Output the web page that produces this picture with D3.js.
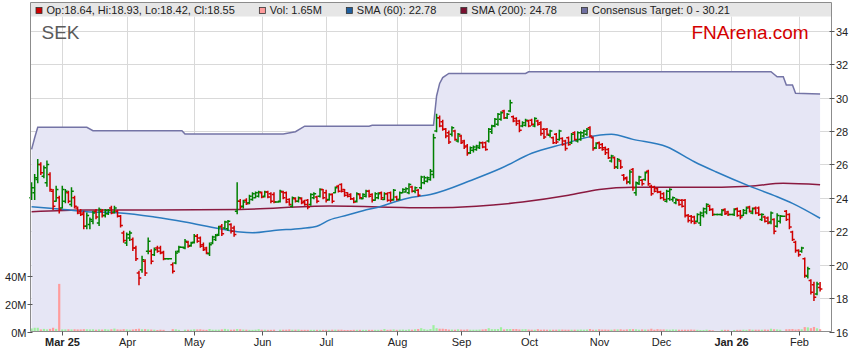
<!DOCTYPE html>
<html>
<head>
<meta charset="utf-8">
<script src="https://cdn.jsdelivr.net/npm/d3@7/dist/d3.min.js"></script>
<style>
  html, body { margin: 0; background: #fff; }
  svg { display: block; font-family: "Liberation Sans", Arial, sans-serif; }
</style>
</head>
<body>
<svg id="chart" width="859" height="363"></svg>
<script>
// SEK daily OHLC chart, one slot per weekday (ASX holidays kept as flat bars).
// Values, Feb 17 2025 .. Feb 11 2026.
const FIRST_DAY = new Date(2025, 1, 17);

const opens = [
  24.0, 24.3, 25.1, 26.0, 25.3,   24.9, 25.4, 24.4, 23.8, 24.0,
  23.4, 23.8, 24.3, 23.6, 24.0,   23.4, 23.2, 23.1, 22.3, 22.4,
  22.6, 23.2, 22.5, 23.2, 22.95,  23.05, 23.4, 23.15, 23.2, 22.9,
  21.9, 21.3, 21.6, 21.5, 21.0,   19.5, 19.7, 20.2, 20.8, 20.8,
  20.6, 21.0, 21.0, 20.75, 20.35, 20.35, 20.0, 20.1, 20.8, 21.05,
  21.0, 21.35, 21.15, 21.35, 21.7, 21.6, 21.2, 21.0, 20.65, 21.3,
  21.5, 21.8, 22.3, 22.2, 22.15,  22.4, 22.2, 23.2, 23.8, 23.5,
  23.85, 23.7, 23.9, 24.0, 24.1,  24.3, 24.1, 24.35, 24.25, 24.2,
  23.75, 23.8, 24.35, 24.3, 23.9, 23.5, 23.95, 23.8, 23.95, 23.8,
  23.85, 23.6, 24.0, 24.05, 24.1, 24.5, 24.3, 23.9, 24.2, 24.3,
  24.7, 24.8, 24.5, 24.3, 24.2,   23.95, 23.8, 24.2, 23.95, 24.1,
  24.4, 24.2, 23.85, 24.0, 24.3,  23.9, 24.25, 24.3, 23.9, 24.05,
  23.9, 24.3, 24.35, 24.3, 24.65, 24.4, 24.45, 24.6, 24.9, 25.0,
  25.1, 25.4, 28.0, 28.8, 28.55,  28.1, 27.9, 27.8, 28.0, 27.4,
  27.7, 27.4, 27.1, 26.7, 26.85,  26.9, 27.0, 27.3, 27.3, 27.4,
  27.95, 28.3, 28.4, 28.7, 29.2,  28.8, 29.2, 28.85, 28.75, 28.6,
  28.3, 28.35, 28.6, 28.65, 28.3, 28.6, 28.5, 28.1, 28.1, 27.75,
  27.6, 27.8, 27.5, 27.55, 27.4,  27.6, 27.3, 27.9, 27.4, 27.5,
  27.7, 27.8, 28.2, 27.6, 27.0,   27.3, 27.2, 27.0, 26.9, 26.2,
  26.4, 25.85, 26.2, 25.35, 25.2, 24.95, 25.7, 24.3, 24.85, 25.05,
  25.1, 25.6, 24.7, 24.65, 24.55, 24.35, 24.25, 23.8, 23.95, 23.9,
  23.7, 23.85, 23.85, 23.85, 22.95, 22.9, 22.85, 22.6, 22.5, 22.95,
  23.15, 23.5, 23.3, 23.0, 23.0,  23.0, 23.3, 23.15, 23.0, 23.0,
  23.35, 23.2, 22.95, 23.1, 23.45, 23.1, 23.4, 23.4, 22.7, 22.85,
  22.8, 22.55, 22.7, 22.3, 22.6,  22.9, 23.2, 23.0, 21.95, 21.35,
  20.85, 20.8, 20.35, 19.3, 19.05, 18.8, 18.25, 18.64
];
const highs = [
  24.9, 25.4, 26.3, 26.1, 25.9,   26.2, 25.5, 24.5, 24.7, 24.1,
  24.7, 24.5, 24.4, 24.6, 24.1,   23.45, 23.3, 23.2, 23.1, 22.8,
  23.2, 23.3, 23.4, 23.3, 23.3,   23.3, 23.5, 23.5, 23.25, 22.95,
  22.0, 21.9, 22.0, 21.6, 21.1,   19.6, 20.5, 20.3, 21.6, 20.9,
  21.0, 21.1, 21.1, 20.8, 20.35,  20.35, 20.1, 20.8, 21.1, 21.05,
  21.5, 21.4, 21.35, 21.8, 21.8,  21.65, 21.3, 21.05, 21.3, 21.7,
  21.8, 22.3, 22.4, 22.6, 22.65,  22.45, 22.3, 24.9, 23.9, 23.85,
  23.95, 24.15, 24.3, 24.35, 24.4, 24.35, 24.4, 24.4, 24.3, 24.3,
  23.75, 24.45, 24.4, 24.35, 23.95, 24.05, 24.0, 24.05, 24.0, 23.85,
  23.9, 24.25, 24.3, 24.1, 24.55, 24.5, 24.45, 24.25, 24.25, 24.65,
  24.75, 24.85, 24.5, 24.3, 24.25, 24.0, 24.3, 24.25, 24.25, 24.45,
  24.45, 24.25, 24.3, 24.3, 24.35, 24.3, 24.3, 24.35, 24.5, 24.1,
  24.35, 24.55, 24.6, 24.85, 24.7, 24.65, 24.5, 25.3, 25.3, 25.25,
  25.7, 27.8, 29.0, 28.9, 28.65,  28.15, 28.0, 28.25, 28.05, 27.85,
  27.75, 27.45, 27.2, 27.05, 27.1, 27.15, 27.35, 27.35, 27.35, 28.15,
  28.35, 28.75, 29.05, 29.15, 29.25, 29.05, 29.85, 28.9, 28.8, 28.65,
  28.55, 28.7, 28.65, 28.7, 28.8,  28.65, 28.55, 28.15, 28.15, 28.05,
  27.65, 27.85, 28.05, 27.6, 27.45, 27.65, 27.85, 27.95, 27.95, 27.95,
  28.05, 28.15, 28.25, 27.65, 27.3, 27.35, 27.25, 27.05, 26.95, 26.55,
  26.45, 26.35, 26.25, 25.4, 25.25, 25.65, 25.75, 24.95, 25.3, 25.1,
  25.55, 25.65, 24.75, 24.7, 24.6, 24.4, 24.3, 24.45, 24.55, 24.05,
  23.95, 23.9, 23.9, 23.9, 23.0,   22.95, 22.9, 23.05, 23.15, 23.4,
  23.65, 23.55, 23.35, 23.0, 23.0, 23.3, 23.35, 23.2, 23.0, 23.35,
  23.4, 23.25, 23.3, 23.45, 23.5,  23.4, 23.45, 23.45, 23.05, 22.9,
  22.85, 23.15, 22.75, 23.05, 22.95, 22.9, 23.25, 23.05, 22.0, 21.4,
  20.9, 21.05, 20.4, 19.85, 19.1,  18.95, 18.95, 18.93
];
const lows = [
  23.9, 23.9, 24.9, 25.4, 25.2,   24.7, 24.4, 23.3, 23.8, 23.1,
  23.4, 23.7, 23.7, 23.5, 23.4,   23.05, 22.95, 22.15, 22.15, 22.15,
  22.45, 22.75, 22.35, 22.85, 22.85, 23.0, 23.05, 23.1, 22.85, 22.25,
  21.35, 21.15, 21.45, 20.85, 20.25, 18.8, 19.55, 19.35, 20.65, 20.05,
  20.55, 20.75, 20.65, 20.3, 20.35, 20.35, 19.5, 20.05, 20.75, 21.05,
  20.95, 21.05, 21.1, 21.3, 21.35, 21.05, 20.85, 20.65, 20.55, 21.25,
  21.45, 21.75, 21.75, 22.15, 22.05, 21.9, 21.7, 23.05, 23.35, 23.4,
  23.6, 23.65, 23.85, 24.0, 24.05, 24.0, 24.05, 24.0, 23.7, 23.7,
  23.75, 23.75, 23.95, 23.7, 23.55, 23.45, 23.75, 23.75, 23.65, 23.55,
  23.35, 23.55, 23.95, 23.7, 24.05, 23.95, 23.75, 23.85, 23.7, 24.3,
  24.35, 24.35, 24.1, 24.05, 23.9, 23.7, 23.75, 23.95, 23.95, 24.05,
  24.05, 23.75, 23.85, 23.95, 23.9, 23.9, 23.8, 23.75, 23.85, 23.85,
  23.9, 24.3, 24.35, 24.25, 24.35, 24.3, 24.1, 24.55, 24.85, 24.95,
  25.05, 25.2, 27.95, 28.25, 28.05, 27.6, 27.25, 27.7, 27.45, 27.35,
  27.25, 26.95, 26.55, 26.65, 26.75, 26.85, 26.95, 27.0, 26.85, 27.35,
  27.85, 28.25, 28.35, 28.65, 28.75, 28.75, 29.15, 28.55, 28.35, 27.95,
  28.25, 28.3, 28.25, 28.35, 28.25, 28.35, 27.75, 27.55, 27.75, 27.65,
  27.25, 27.25, 27.45, 27.15, 26.85, 27.15, 27.25, 27.45, 27.35, 27.45,
  27.65, 27.75, 27.65, 26.85, 26.95, 26.95, 26.85, 26.6, 26.35, 26.15,
  25.75, 25.75, 25.75, 25.05, 24.85, 24.85, 24.45, 24.15, 24.8, 24.75,
  25.05, 24.75, 24.15, 24.35, 24.3, 23.95, 23.85, 23.75, 23.85, 23.8,
  23.65, 23.55, 23.45, 22.85, 22.55, 22.5, 22.45, 22.55, 22.35, 22.85,
  23.05, 23.25, 22.95, 23.0, 23.0, 22.95, 23.0, 22.95, 23.0, 22.95,
  22.9, 22.75, 22.95, 23.05, 23.15, 23.05, 23.05, 22.95, 22.65, 22.55,
  22.45, 22.45, 21.85, 22.25, 22.5, 22.9, 22.65, 22.15, 21.45, 20.75,
  20.5, 20.75, 19.25, 19.2, 18.25, 17.85, 18.2, 18.42
];
const closes = [
  24.6, 25.2, 26.0, 25.5, 25.8,   26.0, 24.5, 23.5, 24.5, 23.3,
  24.5, 24.4, 23.8, 24.4, 23.5,   23.1, 23.0, 22.3, 22.95, 22.7,
  23.1, 22.85, 23.3, 22.95, 23.25, 23.25, 23.1, 23.4, 22.9, 22.35,
  21.45, 21.8, 21.9, 21.0, 20.35, 19.2, 20.3, 19.5, 21.4, 20.2,
  20.9, 20.8, 20.7, 20.35, 20.35, 20.35, 19.6, 20.7, 21.05, 21.05,
  21.4, 21.1, 21.3, 21.7, 21.4,   21.1, 20.9, 20.7, 21.2, 21.65,
  21.75, 22.25, 21.85, 22.55, 22.6, 22.0, 21.8, 23.8, 23.45, 23.75,
  23.65, 24.1, 24.25, 24.3, 24.35, 24.05, 24.35, 24.05, 23.8, 23.75,
  23.75, 24.4, 24.0, 23.75, 23.6, 24.0, 23.8, 24.0, 23.7, 23.6,
  23.45, 24.2, 24.25, 23.8, 24.5, 24.0, 23.85, 24.2, 23.8, 24.6,
  24.4, 24.4, 24.15, 24.1, 23.95, 23.75, 24.25, 24.0, 24.2, 24.4,
  24.1, 23.85, 24.25, 24.25, 24.0, 24.25, 23.85, 23.85, 24.45, 23.9,
  24.3, 24.5, 24.55, 24.8, 24.4,  24.6, 24.15, 25.25, 25.2, 25.2,
  25.6, 27.6, 28.8, 28.3, 28.1,   27.7, 27.35, 28.2, 27.5, 27.8,
  27.3, 27.05, 26.65, 27.0, 27.05, 27.1, 27.3, 27.05, 26.9, 28.1,
  28.3, 28.7, 29.0, 29.1, 28.8,   29.0, 29.7, 28.6, 28.45, 28.05,
  28.5, 28.65, 28.3, 28.4, 28.75, 28.4, 27.85, 27.65, 27.8, 28.0,
  27.3, 27.35, 28.0, 27.2, 26.95, 27.2, 27.8, 27.5, 27.9, 27.9,
  28.0, 28.1, 27.7, 26.95, 27.25, 27.0, 26.9, 26.7, 26.4, 26.5,
  25.85, 26.3, 25.85, 25.15, 24.95, 25.55, 24.6, 24.9, 25.25, 24.85,
  25.5, 24.85, 24.25, 24.4, 24.35, 24.0, 23.9, 24.4, 24.5, 24.0,
  23.9, 23.6, 23.5, 22.95, 22.65, 22.6, 22.5, 23.0, 23.1, 23.35,
  23.6, 23.3, 23.0, 23.0, 23.0,   23.25, 23.05, 23.0, 23.0, 23.3,
  22.95, 22.85, 23.25, 23.4, 23.2, 23.35, 23.1, 23.0, 23.0, 22.6,
  22.5, 23.1, 22.0, 22.95, 22.9,  22.9, 22.7, 22.25, 21.5, 20.85,
  20.6, 21.0, 19.35, 19.75, 18.35, 18.05, 18.85, 18.55
];
// volume in millions of shares
const volumes = [
  2.2, 2.7, 2.7, 1.5, 1.9,  1.5, 1.9, 2.7, 1.9, 34.5,
  1.5, 1.5, 1.6, 1.5, 1.6,  1.5, 1.5, 1.7, 1.6, 1.5,
  1.6, 1.3, 1.5, 1.4, 1.7,  1.4, 1.6, 2.1, 1.5, 1.4,
  1.7, 1.5, 1.3, 1.5, 1.8,  2.0, 1.6, 1.7, 1.5, 1.4,
  1.3, 1.1, 1.3, 1.2, 0,    0, 1.7, 1.6, 1.2, 0,
  1.3, 1.3, 1.3, 1.6, 1.5,  1.6, 1.3, 1.2, 1.8, 1.3,
  1.3, 1.3, 1.5, 1.9, 1.5,  1.3, 1.4, 1.8, 1.6, 1.4,
  1.3, 1.2, 1.2, 1.3, 1.7,  1.3, 1.3, 1.2, 1.2, 1.3,
  0, 1.3, 1.3, 1.3, 1.5,    1.3, 1.3, 1.4, 1.2, 1.2,
  1.2, 1.2, 1.2, 1.2, 1.2,  1.2, 1.2, 1.2, 1.3, 1.3,
  1.3, 1.3, 1.1, 1.1, 1.1,  1.2, 1.2, 1.2, 1.2, 1.2,
  1.2, 1.2, 1.2, 1.2, 1.2,  1.8, 1.2, 1.3, 1.5, 1.2,
  1.3, 1.4, 1.2, 1.5, 1.3,  1.6, 1.8, 2.4, 1.7, 1.3,
  1.8, 4.6, 2.4, 2.0, 2.0,  1.8, 1.4, 1.4, 1.3, 1.6,
  1.4, 1.3, 1.5, 1.3, 1.3,  1.3, 1.4, 1.5, 1.7, 2.4,
  1.7, 1.7, 1.8, 3.1, 1.5,  1.8, 1.8, 1.8, 1.8, 1.5,
  1.6, 1.7, 1.4, 1.3, 1.3,  1.7, 1.3, 1.4, 1.3, 1.3,
  1.3, 1.3, 1.4, 1.4, 1.3,  1.3, 1.3, 1.3, 1.3, 1.4,
  1.3, 1.4, 1.8, 1.3, 1.3,  1.6, 1.4, 1.4, 1.3, 1.3,
  1.5, 1.5, 1.6, 1.3, 1.5,  1.7, 1.7, 1.6, 1.3, 1.5,
  1.4, 1.4, 2.0, 1.3, 1.7,  1.5, 1.5, 1.4, 1.3, 1.5,
  1.4, 1.3, 1.3, 1.3, 1.3,  1.4, 1.3, 1.2, 1.1, 1.1,
  1.3, 1.1, 0.9, 0, 0,      1.2, 1.2, 1.2, 0, 1.1,
  1.2, 1.2, 1.3, 1.2, 1.5,  1.3, 1.3, 1.3, 1.3, 1.4,
  1.3, 2.0, 1.6, 1.5, 1.3,  0, 1.6, 1.7, 1.8, 1.4,
  1.7, 1.6, 3.2, 3.0, 2.4,  3.3, 2.3, 1.65
];

// consensus target (slot index, A$)
const targetIdx = [0, 1, 2, 18, 20, 49, 50, 82, 86, 89, 110, 111, 131, 132, 133, 134, 136, 161, 162, 241, 243, 245, 246, 248, 249, 257];
const targetVal = [26.9, 27.6, 28.22, 28.22, 28.02, 28.02, 27.82, 27.82, 27.96, 28.29, 28.29, 28.34, 28.34, 30.1, 30.85, 31.2, 31.45, 31.45, 31.55, 31.55, 31.25, 31.25, 30.75, 30.75, 30.26, 30.21];

// moving averages, sampled along the curves
const sma60Idx = [0, 7, 18, 29, 40, 50, 61, 68, 72, 79, 88, 93, 97, 103, 108, 114, 119, 124, 130, 144, 153, 163, 174, 181, 189, 196, 207, 216, 223, 234, 243, 248, 257];
const sma60Val = [23.47, 23.37, 23.17, 23.1, 22.86, 22.56, 22.16, 21.95, 21.91, 22.05, 22.17, 22.3, 22.67, 22.97, 23.23, 23.5, 23.8, 24.03, 24.2, 25.1, 25.77, 26.67, 27.26, 27.62, 27.8, 27.5, 27.06, 26.16, 25.56, 24.7, 24.07, 23.67, 22.78];
const sma200Idx = [0, 18, 40, 68, 97, 130, 145, 160, 175, 185, 196, 216, 234, 245, 257];
const sma200Val = [23.17, 23.27, 23.27, 23.31, 23.51, 23.41, 23.5, 23.75, 24.15, 24.5, 24.63, 24.63, 24.7, 24.87, 24.78];

const priceTicks = [16, 18, 20, 22, 24, 26, 28, 30, 32, 34];
const volTicks = [0, 20, 40];
const monthLabels = ['Mar 25', 'Apr', 'May', 'Jun', 'Jul', 'Aug', 'Sep', 'Oct', 'Nov', 'Dec', 'Jan 26', 'Feb'];
const legendLabels = ['Op:18.64, Hi:18.93, Lo:18.42, Cl:18.55', 'Vol: 1.65M', 'SMA (60): 22.78', 'SMA (200): 24.78', 'Consensus Target: 0 - 30.21'];

const UP = '#008000', DOWN = '#d00000';
const UP_VOL = '#9ef09e', DOWN_VOL = '#ff9c9c';
const legendColors = [DOWN, '#ff9c9c', '#1f5f9f', '#7a1030', '#6f6fa0'];

// weekday slots
const days = [];
for (let d = new Date(FIRST_DAY); days.length < opens.length; d.setDate(d.getDate() + 1)) {
  if (d.getDay() !== 0 && d.getDay() !== 6) days.push(new Date(d));
}
const monthStarts = [];
days.forEach((d, i) => { if (i > 0 && d.getMonth() !== days[i - 1].getMonth()) monthStarts.push(i); });

const L = 30.5, R = 831.5, TOP = 2.5, BOT = 331.5, BAND = 16.5;
const x = d3.scaleLinear().domain([-0.36, 260.72]).range([L, R]);
const y = d3.scaleLinear().domain([16, 34]).range([BOT, 30.8]);
const yv = d3.scaleLinear().domain([0, 40]).range([BOT, 276.3]);

const svg = d3.select('#chart');

// grid
const grid = svg.append('g').attr('stroke', '#d9d9d9').attr('stroke-width', 1);
grid.selectAll('line.h').data(priceTicks.slice(1)).enter().append('line')
  .attr('x1', L).attr('x2', R)
  .attr('y1', (v) => Math.round(y(v)) + 0.5).attr('y2', (v) => Math.round(y(v)) + 0.5);
grid.selectAll('line.v').data(monthStarts).enter().append('line')
  .attr('x1', (i) => Math.round(x(i)) + 0.5).attr('x2', (i) => Math.round(x(i)) + 0.5)
  .attr('y1', BAND).attr('y2', BOT);

// consensus target band
const target = targetIdx.map((i, k) => [i, targetVal[k]]);
svg.append('path').datum(target)
  .attr('fill', '#e6e6f5')
  .attr('d', d3.area().x((d) => x(d[0])).y0(BOT).y1((d) => y(d[1])));
svg.append('path').datum(target)
  .attr('fill', 'none').attr('stroke', '#7474a6').attr('stroke-width', 1.5)
  .attr('d', d3.line().x((d) => x(d[0])).y((d) => y(d[1])));

const isUp = (i) => closes[i] >= opens[i];

// volume
svg.append('g').selectAll('rect').data(volumes).enter().append('rect')
  .attr('x', (v, i) => x(i) - 1.1).attr('width', 2.2)
  .attr('y', (v) => yv(v)).attr('height', (v) => BOT - yv(v))
  .attr('fill', (v, i) => isUp(i) ? UP_VOL : DOWN_VOL);

// moving averages
const smaLine = d3.line().curve(d3.curveMonotoneX).x((d) => x(d[0])).y((d) => y(d[1]));
svg.append('path').datum(sma200Idx.map((i, k) => [i, sma200Val[k]]))
  .attr('fill', 'none').attr('stroke', '#8a1a40').attr('stroke-width', 1.5).attr('d', smaLine);
svg.append('path').datum(sma60Idx.map((i, k) => [i, sma60Val[k]]))
  .attr('fill', 'none').attr('stroke', '#2b7bbf').attr('stroke-width', 1.5).attr('d', smaLine);

// OHLC bars
svg.append('g').attr('stroke-width', 1.5).selectAll('path').data(opens).enter().append('path')
  .attr('stroke', (o, i) => isUp(i) ? UP : DOWN)
  .attr('fill', 'none')
  .attr('d', (o, i) => {
    const cx = x(i);
    return `M${cx},${y(highs[i]) - 0.5}V${y(lows[i]) + 0.5}` +
      `M${cx - 2.3},${y(o)}H${cx}M${cx},${y(closes[i])}H${cx + 2.3}`;
  });

// legend band and frame
svg.append('rect').attr('x', L).attr('y', TOP).attr('width', R - L).attr('height', BAND - TOP)
  .attr('fill', '#e6e6e6');
svg.append('path').attr('fill', 'none').attr('stroke', '#8c8c8c').attr('stroke-width', 1)
  .attr('d', `M${L},${BOT}V${TOP}H${R}V${BOT}M${L},${BOT}H${R}`);

let lx = 35.5;
legendLabels.forEach((t, k) => {
  svg.append('rect').attr('x', lx + 0.5).attr('y', 7.5).attr('width', 6).attr('height', 6)
    .attr('fill', legendColors[k]).attr('stroke', '#333').attr('stroke-width', 0.8);
  const tx = svg.append('text').attr('x', lx + 11).attr('y', 13.6)
    .attr('font-size', 11).attr('fill', '#222').text(t);
  lx = lx + 11 + tx.node().getComputedTextLength() + 24;
});

// right price axis
const ax = svg.append('g').attr('font-size', 11).attr('fill', '#222');
priceTicks.forEach((v) => {
  const ty = Math.round(y(v)) + 0.5;
  ax.append('line').attr('x1', R - 2).attr('x2', R + 3).attr('y1', ty).attr('y2', ty).attr('stroke', '#555');
  ax.append('text').attr('x', R + 4.5).attr('y', ty + 4).text(v);
});
// left volume axis
volTicks.forEach((v) => {
  const ty = Math.round(yv(v)) + 0.5;
  ax.append('line').attr('x1', L - 3).attr('x2', L + 2).attr('y1', ty).attr('y2', ty).attr('stroke', '#555');
  ax.append('text').attr('x', L - 4).attr('y', ty + 4).attr('text-anchor', 'end').text(v + 'M');
});
// month axis
monthStarts.forEach((i, k) => {
  const tx = Math.round(x(i)) + 0.5;
  ax.append('line').attr('x1', tx).attr('x2', tx).attr('y1', BOT).attr('y2', BOT + 4).attr('stroke', '#555');
  ax.append('text').attr('x', tx).attr('y', 346).attr('text-anchor', 'middle')
    .attr('font-weight', /\d/.test(monthLabels[k]) ? 'bold' : 'normal').text(monthLabels[k]);
});

svg.append('text').attr('x', 41.5).attr('y', 39.3).attr('font-size', 19).attr('fill', '#5a5a5a').text('SEK');
svg.append('text').attr('x', 691.5).attr('y', 39.3).attr('font-size', 19).attr('fill', '#d40000').text('FNArena.com');
</script>
</body>
</html>
